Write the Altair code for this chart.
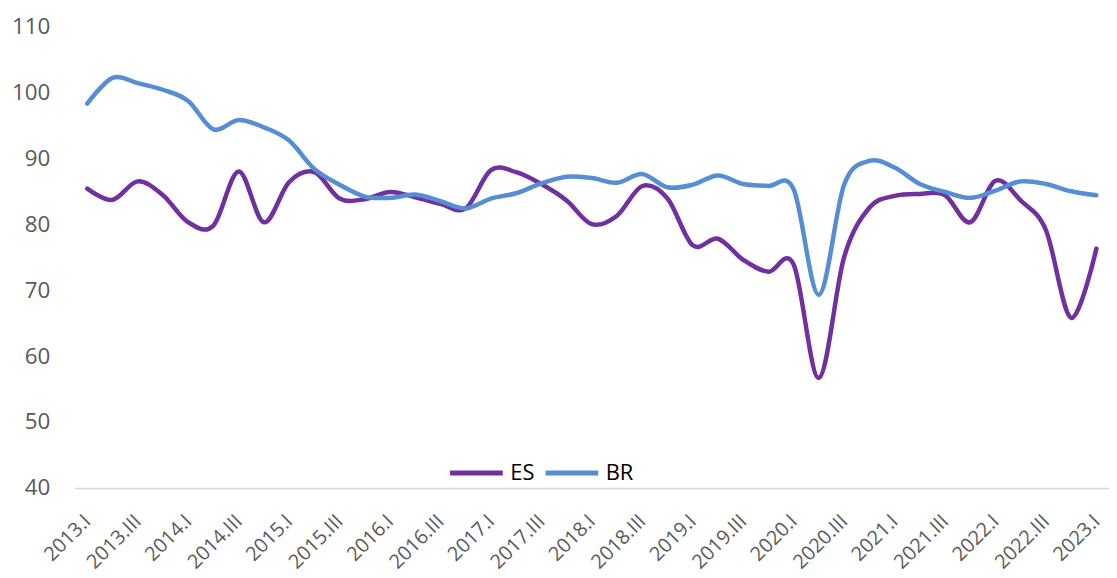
import altair as alt
import pandas as pd

roman = ["I", "II", "III", "IV"]
quarters = [f"{y}.{r}" for y in range(2013, 2023) for r in roman] + ["2023.I"]

es = [85.4, 83.7, 86.5, 84.4, 80.3, 79.8, 88.0, 80.3, 86.4, 87.9,
      83.9, 83.8, 84.9, 84.1, 83.1, 82.4, 88.2, 87.9, 86.1, 83.6,
      80.0, 81.3, 85.8, 83.9, 76.8, 77.8, 74.6, 72.8, 73.9, 56.7,
      75.0, 82.5, 84.3, 84.6, 84.4, 80.3, 86.6, 83.6, 79.1, 65.8,
      76.3]
br = [98.3, 102.2, 101.4, 100.4, 98.7, 94.4, 95.8, 94.7, 92.7, 88.4,
      86.0, 84.2, 84.0, 84.5, 83.5, 82.4, 83.9, 84.7, 86.2, 87.2,
      87.0, 86.3, 87.6, 85.6, 86.0, 87.4, 86.1, 85.8, 85.3, 69.3,
      86.0, 89.6, 88.6, 86.1, 84.9, 84.0, 85.1, 86.5, 86.1, 85.0,
      84.4]
series = ["ES", "BR"]
colors = ["#7030A0", "#558ED5"]
label_values = quarters[::2]
y_ticks = [40, 50, 60, 70, 80, 90, 100, 110]

rows = []
for name, vals in zip(series, [es, br]):
    for q, v in zip(quarters, vals):
        rows.append({"quarter": q, "value": v, "series": name})
df = pd.DataFrame(rows)

FONT = "Open Sans"

chart = alt.Chart(df).mark_line(
    interpolate="cardinal", tension=0, strokeWidth=4.5, strokeCap="round"
).encode(
    x=alt.X("quarter:O", sort=quarters,
            scale=alt.Scale(type="point", padding=0.5),
            axis=alt.Axis(title=None, values=label_values, labelAngle=-45,
                          labelAlign="right", labelBaseline="middle",
                          labelPadding=30, labelFontSize=20, labelColor="#595959",
                          labelFont=FONT, ticks=False, domainColor="#D9D9D9",
                          domainWidth=1.5, grid=False, labelOverlap=False)),
    y=alt.Y("value:Q", scale=alt.Scale(domain=[40, 110], nice=False, zero=False),
            axis=alt.Axis(title=None, values=y_ticks, labelFontSize=22.5,
                          labelColor="#595959", labelFont=FONT, labelPadding=25,
                          ticks=False, domain=False, grid=False)),
    color=alt.Color("series:N", sort=series,
                    scale=alt.Scale(domain=series, range=colors),
                    legend=alt.Legend(title=None, orient="none", direction="horizontal",
                                      legendX=375, legendY=420, symbolType="stroke",
                                      symbolSize=2809, symbolStrokeWidth=5,
                                      labelFontSize=22, labelColor="#000000",
                                      labelFont=FONT, labelOffset=5, columnPadding=0,
                                      padding=0)),
).properties(
    width=1040, height=464,
    padding={"left": 67, "top": 17, "right": 0, "bottom": 89},
    autosize=alt.AutoSizeParams(type="none"),
).configure_view(stroke=None)

chart.save("out.html", embed_options={"renderer": "svg", "actions": False})
